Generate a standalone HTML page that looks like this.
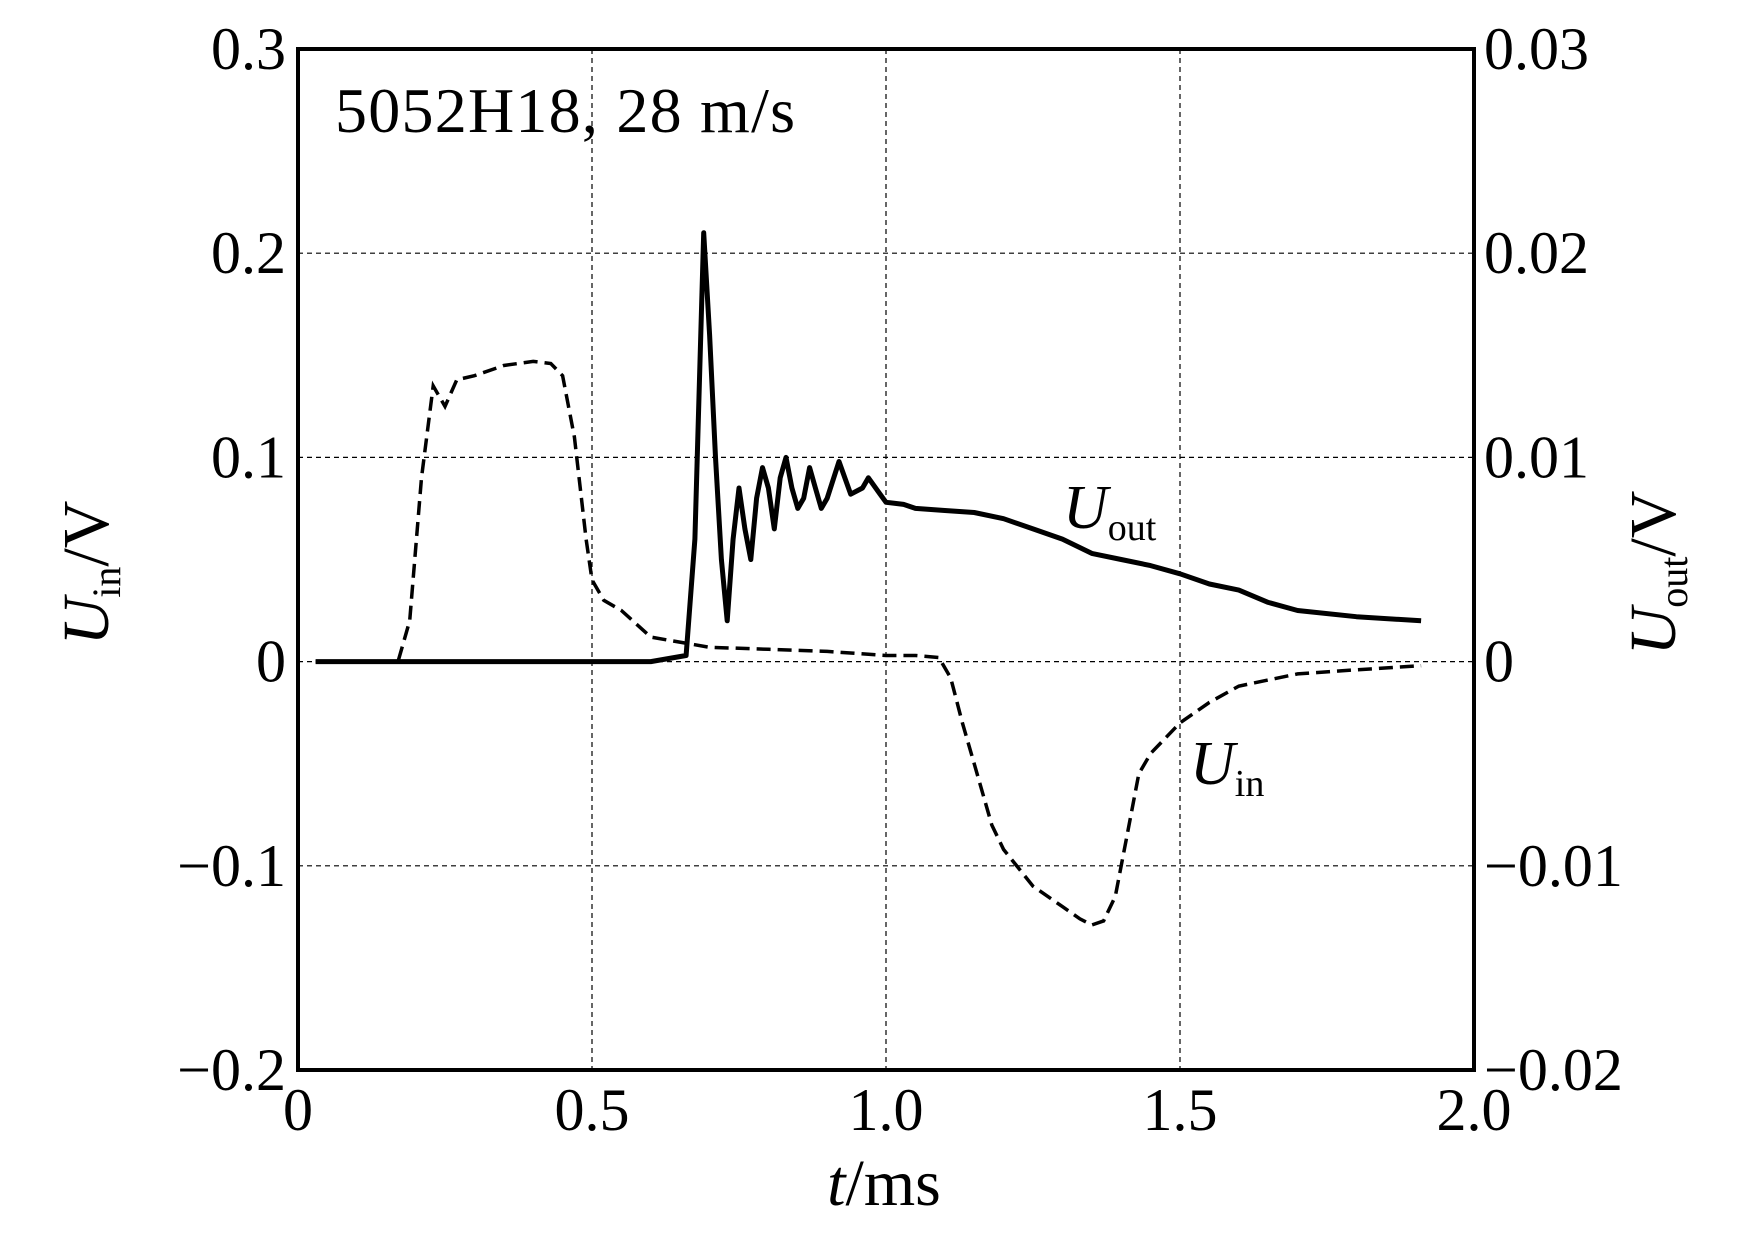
<!DOCTYPE html>
<html><head><meta charset="utf-8"><style>
body{margin:0;background:#fff}
svg{display:block;font-family:"Liberation Serif",serif}
</style></head><body>
<svg id="chart" width="1748" height="1235" viewBox="0 0 1748 1235" xmlns="http://www.w3.org/2000/svg">
<g id="grid"></g>
<g id="series"></g>
<rect x="298" y="49" width="1176" height="1021" fill="none" stroke="#000" stroke-width="4"/>
<g id="ticks" font-size="60"></g>
<text x="335" y="132" font-size="64" textLength="460">5052H18, 28 m/s</text>
<text x="1063" y="528" font-size="62"><tspan font-style="italic">U</tspan><tspan font-size="38" dy="12">out</tspan></text>
<text x="1190" y="784" font-size="62"><tspan font-style="italic">U</tspan><tspan font-size="38" dy="12">in</tspan></text>
<text x="884" y="1205" font-size="66" text-anchor="middle"><tspan font-style="italic">t</tspan>/ms</text>
<text transform="translate(108,573) rotate(-90)" font-size="66" text-anchor="middle"><tspan font-style="italic">U</tspan><tspan font-size="40" dy="12">in</tspan><tspan dy="-12">/V</tspan></text>
<text transform="translate(1675,573) rotate(-90)" font-size="66" text-anchor="middle"><tspan font-style="italic">U</tspan><tspan font-size="40" dy="12">out</tspan><tspan dy="-12">/V</tspan></text>
</svg>
<script>
const xTicks=[0,0.5,1.0,1.5,2.0];
const xTickLabels=["0","0.5","1.0","1.5","2.0"];
const yTicks=[-0.2,-0.1,0,0.1,0.2,0.3];
const yTickLabels=["\u22120.2","\u22120.1","0","0.1","0.2","0.3"];
const y2TickLabels=["\u22120.02","\u22120.01","0","0.01","0.02","0.03"];
const uinT=[0.03,0.17,0.19,0.21,0.23,0.25,0.27,0.3,0.35,0.4,0.43,0.45,0.47,0.49,0.5,0.52,0.55,0.6,0.7,0.8,0.9,1.0,1.05,1.09,1.11,1.13,1.15,1.18,1.2,1.25,1.3,1.33,1.35,1.37,1.39,1.41,1.43,1.45,1.5,1.55,1.6,1.7,1.8,1.91];
const uinV=[0,0,0.02,0.09,0.135,0.125,0.138,0.14,0.145,0.147,0.146,0.14,0.11,0.06,0.04,0.03,0.025,0.012,0.007,0.006,0.005,0.003,0.003,0.002,-0.008,-0.03,-0.05,-0.08,-0.092,-0.11,-0.12,-0.126,-0.129,-0.127,-0.115,-0.085,-0.055,-0.045,-0.03,-0.02,-0.012,-0.006,-0.004,-0.002];
const uoutT=[0.03,0.3,0.6,0.66,0.675,0.69,0.7,0.71,0.72,0.73,0.74,0.75,0.76,0.77,0.78,0.79,0.8,0.81,0.82,0.83,0.84,0.85,0.86,0.87,0.88,0.89,0.9,0.92,0.94,0.96,0.97,0.99,1.0,1.03,1.05,1.1,1.15,1.2,1.25,1.3,1.35,1.4,1.45,1.5,1.55,1.6,1.65,1.7,1.8,1.91];
const uoutV=[0,0,0,0.0003,0.006,0.021,0.016,0.01,0.005,0.002,0.006,0.0085,0.0065,0.005,0.008,0.0095,0.0085,0.0065,0.009,0.01,0.0085,0.0075,0.008,0.0095,0.0085,0.0075,0.008,0.0098,0.0082,0.0085,0.009,0.0082,0.0078,0.0077,0.0075,0.0074,0.0073,0.007,0.0065,0.006,0.0053,0.005,0.0047,0.0043,0.0038,0.0035,0.0029,0.0025,0.0022,0.002];
const X0=298,X1=1474,Y0=1070,Y1=49;
const sx=t=>X0+(t-0)/(2-0)*(X1-X0);
const sy=v=>Y0-(v+0.2)/0.5*(Y0-Y1);
const sy2=v=>sy(v*10);
const NS="http://www.w3.org/2000/svg";
const grid=document.getElementById('grid'),ticks=document.getElementById('ticks'),series=document.getElementById('series');
function mk(tag,attrs,parent){const e=document.createElementNS(NS,tag);for(const k in attrs)e.setAttribute(k,attrs[k]);parent.appendChild(e);return e;}
xTicks.forEach((t,i)=>{
  if(i>0&&i<xTicks.length-1){const l=mk('line',{x1:sx(t),x2:sx(t),y1:Y1,y2:Y0,stroke:'#000','stroke-width':1.2,'stroke-dasharray':'5,4'},grid);
  
  }
  const tx=mk('text',{x:sx(t),y:1130,'text-anchor':'middle'},ticks);tx.textContent=xTickLabels[i];
  
  
});
yTicks.forEach((v,i)=>{
  if(i>0&&i<yTicks.length-1){const l=mk('line',{x1:X0,x2:X1,y1:sy(v),y2:sy(v),stroke:'#000','stroke-width':1.2,'stroke-dasharray':'5,4'},grid);
  
  }
  const tx=mk('text',{x:286,y:sy(v)+20,'text-anchor':'end'},ticks);tx.textContent=yTickLabels[i];
  
  
  const t2=mk('text',{x:1484,y:sy(v)+20},ticks);t2.textContent=y2TickLabels[i];
  
  
});
const pin=mk('path',{d:uinT.map((t,i)=>(i?'L':'M')+sx(t).toFixed(1)+','+sy(uinV[i]).toFixed(1)).join(''),fill:'none',stroke:'#000','stroke-width':3.5,'stroke-dasharray':'14,7'},series);


const pout=mk('path',{d:uoutT.map((t,i)=>(i?'L':'M')+sx(t).toFixed(1)+','+sy2(uoutV[i]).toFixed(1)).join(''),fill:'none',stroke:'#000','stroke-width':5,'stroke-linejoin':'round'},series);


</script>
</body></html>
